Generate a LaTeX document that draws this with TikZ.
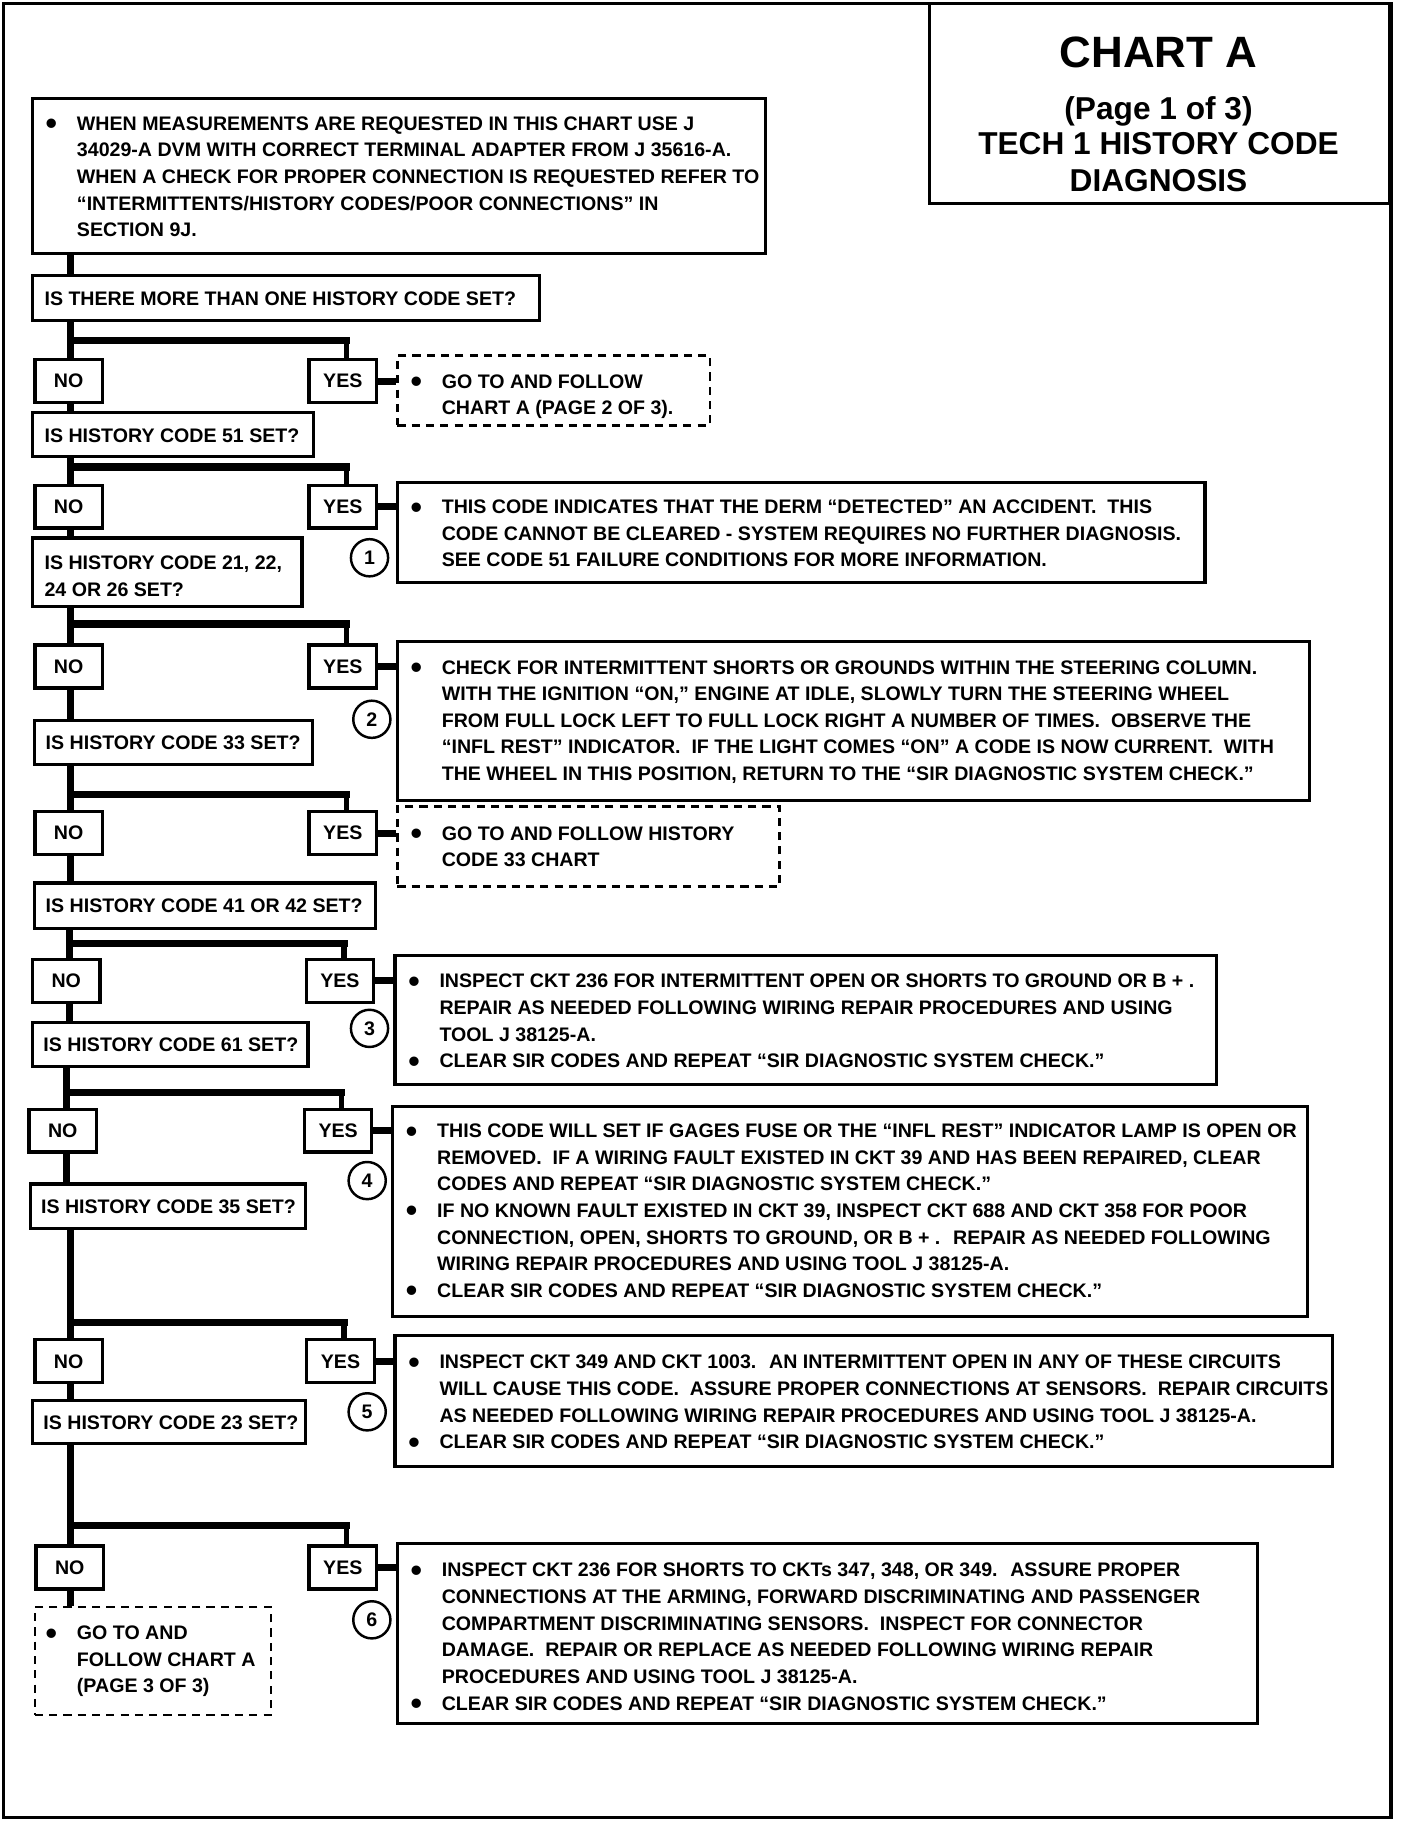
\documentclass[tikz,border=0pt]{standalone}
\usepackage{fontspec}
\setmainfont{Liberation Sans}
\usetikzlibrary{fit}
\newcommand\bu{\makebox[15.3pt][l]{\raisebox{-2.1pt}{\fontsize{16}{16}\selectfont\textbullet}}}
\newcommand\ii{\hspace*{15.3pt}}
\begin{document}
\begin{tikzpicture}[x=0.02cm,y=-0.02cm,
  box/.style={draw, line width=1.6pt, inner sep=0pt, rectangle},
  dbox/.style={draw, line width=1.2pt, dash pattern=on 4pt off 3pt, inner sep=0pt, rectangle},
  txt/.style={inner sep=0pt, anchor=north west, align=left, font=\fontsize{9.6}{13.04}\selectfont\bfseries},
  lab/.style={font=\fontsize{9.6}{13.04}\selectfont\bfseries},
  yn/.style={box, lab, minimum width=1.16cm, minimum height=0.74cm},
  ql/.style={inner sep=0pt, anchor=base west, font=\fontsize{9.6}{13.04}\selectfont\bfseries},
  trunk/.style={line width=3.4pt},
  bar/.style={line width=3.6pt, line cap=rect},
  drop/.style={line width=2.6pt},
  num/.style={circle, draw, line width=1.2pt, minimum size=0.64cm, inner sep=0pt, font=\fontsize{9.6}{11}\selectfont\bfseries},
  ttl/.style={inner sep=0pt, anchor=base, font=\fontsize{15.5}{18}\selectfont\bfseries}
]
\fill[white] (0,0) rectangle (1212,1568);
\useasboundingbox (0,0) rectangle (1212,1568);

% frame and title
\node[box, line width=1.8pt, fit={(3,3) (1197,1564)}] (frame) {};
\node[box, line width=1.8pt, fit={(800,3) (1196,175)}] (title) {};
\node[inner sep=0pt, anchor=base, font=\fontsize{21.5}{24}\selectfont\bfseries] (tA) at (997,58.5) {CHART A};
\node[ttl] (tB) at (997,103) {(Page 1 of 3)};
\node[ttl] (tC) at (997,133) {TECH 1 HISTORY CODE};
\node[ttl] (tD) at (997,165) {DIAGNOSIS};

% top note
\node[box, fit={(28,85) (659,218)}] (top) {};
\node[txt] (toptxt) at (39,100) {\bu WHEN MEASUREMENTS ARE REQUESTED IN THIS CHART USE J\\
\ii 34029-A DVM WITH CORRECT TERMINAL ADAPTER FROM J 35616-A.\\
\ii WHEN A CHECK FOR PROPER CONNECTION IS REQUESTED REFER TO\\
\ii “INTERMITTENTS/HISTORY CODES/POOR CONNECTIONS” IN\\
\ii SECTION 9J.};

% question boxes
\node[box, fit={(28,237) (464,276)}] (q1) {};
\node[ql] (q1t) at (38,263) {IS THERE MORE THAN ONE HISTORY CODE SET?};
\node[box, fit={(28,355) (270,393)}] (q2) {};
\node[ql] (q2t) at (38,381) {IS HISTORY CODE 51 SET?};
\node[box, fit={(28,463) (260,522)}] (q3) {};
\node[txt] (q3t) at (38,478) {IS HISTORY CODE 21, 22,\\ 24 OR 26 SET?};
\node[box, fit={(30,620) (269,658)}] (q4) {};
\node[ql] (q4t) at (39,645) {IS HISTORY CODE 33 SET?};
\node[box, fit={(30,760) (323,799)}] (q5) {};
\node[ql] (q5t) at (39,785) {IS HISTORY CODE 41 OR 42 SET?};
\node[box, fit={(28,880) (265,918)}] (q6) {};
\node[ql] (q6t) at (37,905) {IS HISTORY CODE 61 SET?};
\node[box, fit={(26,1019) (263,1057)}] (q7) {};
\node[ql] (q7t) at (35,1044) {IS HISTORY CODE 35 SET?};
\node[box, fit={(28,1205) (263,1242)}] (q8) {};
\node[ql] (q8t) at (37,1230) {IS HISTORY CODE 23 SET?};

% NO / YES boxes
\node[yn] (no1) at (59,328) {NO};
\node[yn] (yes1) at (295,328) {YES};
\node[yn] (no2) at (59,436) {NO};
\node[yn] (yes2) at (295,436) {YES};
\node[yn] (no3) at (59,573.5) {NO};
\node[yn] (yes3) at (295,573.5) {YES};
\node[yn] (no4) at (59,717) {NO};
\node[yn] (yes4) at (295,717) {YES};
\node[yn] (no5) at (57,844) {NO};
\node[yn] (yes5) at (292.5,844) {YES};
\node[yn] (no6) at (54,973) {NO};
\node[yn] (yes6) at (291,973) {YES};
\node[yn] (no7) at (59,1171.5) {NO};
\node[yn] (yes7) at (293,1171.5) {YES};
\node[yn] (no8) at (60,1349) {NO};
\node[yn] (yes8) at (295,1349) {YES};

% result boxes
\node[dbox, fit={(342,306) (611,366)}] (d1) {};
\node[txt] (d1t) at (353,322) {\bu GO TO AND FOLLOW\\ \ii CHART A (PAGE 2 OF 3).};

\node[box, fit={(342,415) (1037,501)}] (b1) {};
\node[txt] (b1t) at (353,430) {\bu THIS CODE INDICATES THAT THE DERM “DETECTED” AN ACCIDENT.~ THIS\\
\ii CODE CANNOT BE CLEARED - SYSTEM REQUIRES NO FURTHER DIAGNOSIS.\\
\ii SEE CODE 51 FAILURE CONDITIONS FOR MORE INFORMATION.};

\node[box, fit={(342,552) (1127,689)}] (b2) {};
\node[txt] (b2t) at (353,568) {\bu CHECK FOR INTERMITTENT SHORTS OR GROUNDS WITHIN THE STEERING COLUMN.\\
\ii WITH THE IGNITION “ON,” ENGINE AT IDLE, SLOWLY TURN THE STEERING WHEEL\\
\ii FROM FULL LOCK LEFT TO FULL LOCK RIGHT A NUMBER OF TIMES.~ OBSERVE THE\\
\ii “INFL REST” INDICATOR.~ IF THE LIGHT COMES “ON” A CODE IS NOW CURRENT.~ WITH\\
\ii THE WHEEL IN THIS POSITION, RETURN TO THE “SIR DIAGNOSTIC SYSTEM CHECK.”};

\node[dbox, fit={(342,694) (671,763)}] (d2) {};
\node[txt] (d2t) at (353,711) {\bu GO TO AND FOLLOW HISTORY\\ \ii CODE 33 CHART};

\node[box, fit={(340,822) (1047,933)}] (b3) {};
\node[txt] (b3t) at (351,838) {\bu INSPECT CKT 236 FOR INTERMITTENT OPEN OR SHORTS TO GROUND OR B + .\\
\ii REPAIR AS NEEDED FOLLOWING WIRING REPAIR PROCEDURES AND USING\\
\ii TOOL J 38125-A.\\
\bu CLEAR SIR CODES AND REPEAT “SIR DIAGNOSTIC SYSTEM CHECK.”};

\node[box, fit={(338,952) (1125,1133)}] (b4) {};
\node[txt] (b4t) at (349,967) {\bu THIS CODE WILL SET IF GAGES FUSE OR THE “INFL REST” INDICATOR LAMP IS OPEN OR\\
\ii REMOVED.~ IF A WIRING FAULT EXISTED IN CKT 39 AND HAS BEEN REPAIRED, CLEAR\\
\ii CODES AND REPEAT “SIR DIAGNOSTIC SYSTEM CHECK.”\\
\bu IF NO KNOWN FAULT EXISTED IN CKT 39, INSPECT CKT 688 AND CKT 358 FOR POOR\\
\ii CONNECTION, OPEN, SHORTS TO GROUND, OR B + .~ REPAIR AS NEEDED FOLLOWING\\
\ii WIRING REPAIR PROCEDURES AND USING TOOL J 38125-A.\\
\bu CLEAR SIR CODES AND REPEAT “SIR DIAGNOSTIC SYSTEM CHECK.”};

\node[box, fit={(340,1149) (1147,1262)}] (b5) {};
\node[txt] (b5t) at (351,1166) {\bu INSPECT CKT 349 AND CKT 1003.~ AN INTERMITTENT OPEN IN ANY OF THESE CIRCUITS\\
\ii WILL CAUSE THIS CODE.~ ASSURE PROPER CONNECTIONS AT SENSORS.~ REPAIR CIRCUITS\\
\ii AS NEEDED FOLLOWING WIRING REPAIR PROCEDURES AND USING TOOL J 38125-A.\\
\bu CLEAR SIR CODES AND REPEAT “SIR DIAGNOSTIC SYSTEM CHECK.”};

\node[box, fit={(342,1328) (1082,1483)}] (b6) {};
\node[txt] (b6t) at (353,1345) {\bu INSPECT CKT 236 FOR SHORTS TO CKTs 347, 348, OR 349.~ ASSURE PROPER\\
\ii CONNECTIONS AT THE ARMING, FORWARD DISCRIMINATING AND PASSENGER\\
\ii COMPARTMENT DISCRIMINATING SENSORS.~ INSPECT FOR CONNECTOR\\
\ii DAMAGE.~ REPAIR OR REPLACE AS NEEDED FOLLOWING WIRING REPAIR\\
\ii PROCEDURES AND USING TOOL J 38125-A.\\
\bu CLEAR SIR CODES AND REPEAT “SIR DIAGNOSTIC SYSTEM CHECK.”};

\node[dbox, fit={(30,1383) (233,1476)}] (d3) {};
\node[txt] (d3t) at (39,1399) {\bu GO TO AND\\ \ii FOLLOW CHART A\\ \ii (PAGE 3 OF 3)};

% numbered circles
\node[num] (c1) at (318,480) {1};
\node[num] (c2) at (320,619) {2};
\node[num] (c3) at (318,885) {3};
\node[num] (c4) at (316,1016) {4};
\node[num] (c5) at (316,1215) {5};
\node[num] (c6) at (320,1394) {6};

% junctions
\coordinate (j1) at (61,293);
\coordinate (j2) at (61,402);
\coordinate (j3) at (61,537);
\coordinate (j4) at (61,684);
\coordinate (j5) at (60,812);
\coordinate (j6) at (57,940);
\coordinate (j7) at (61,1138);
\coordinate (j8) at (61,1313);

% trunk
\draw[trunk] (top.south -| j1) -- (q1.north -| j1);
\draw[trunk] (q1.south -| j1) -- (no1.north -| j1);
\draw[trunk] (no1.south -| j1) -- (q2.north -| j1);
\draw[trunk] (q2.south -| j2) -- (no2.north -| j2);
\draw[trunk] (no2.south -| j2) -- (q3.north -| j2);
\draw[trunk] (q3.south -| j3) -- (no3.north -| j3);
\draw[trunk] (no3.south -| j3) -- (q4.north -| j3);
\draw[trunk] (q4.south -| j4) -- (no4.north -| j4);
\draw[trunk] (no4.south -| j4) -- (q5.north -| j4);
\draw[trunk] (q5.south -| j5) -- (no5.north -| j5);
\draw[trunk] (no5.south -| j5) -- (q6.north -| j5);
\draw[trunk] (q6.south -| j6) -- (no6.north -| j6);
\draw[trunk] (no6.south -| j6) -- (q7.north -| j6);
\draw[trunk] (q7.south -| j7) -- (no7.north -| j7);
\draw[trunk] (no7.south -| j7) -- (q8.north -| j7);
\draw[trunk] (q8.south -| j8) -- (no8.north -| j8);
\draw[trunk] (no8.south -| j8) -- (d3.north -| j8);

% branches to YES
\foreach \k/\xx in {1/298,2/298,3/298,4/298,5/296,6/294,7/296,8/298}{
  \draw[bar] (j\k) -- (\xx,0 |- j\k);
}
\draw[drop] (298,293) -- (yes1.north -| 298,0);
\draw[drop] (298,402) -- (yes2.north -| 298,0);
\draw[drop] (298,537) -- (yes3.north -| 298,0);
\draw[drop] (298,684) -- (yes4.north -| 298,0);
\draw[drop] (296,812) -- (yes5.north -| 296,0);
\draw[drop] (294,940) -- (yes6.north -| 294,0);
\draw[drop] (296,1138) -- (yes7.north -| 296,0);
\draw[drop] (298,1313) -- (yes8.north -| 298,0);

% YES to results
\draw[trunk] (yes1.east) -- (yes1.east -| d1.west);
\draw[trunk] (yes2.east) -- (yes2.east -| b1.west);
\draw[trunk] (yes3.east) -- (yes3.east -| b2.west);
\draw[trunk] (yes4.east) -- (yes4.east -| d2.west);
\draw[trunk] (yes5.east) -- (yes5.east -| b3.west);
\draw[trunk] (yes6.east) -- (yes6.east -| b4.west);
\draw[trunk] (yes7.east) -- (yes7.east -| b5.west);
\draw[trunk] (yes8.east) -- (yes8.east -| b6.west);
\end{tikzpicture}
\end{document}
